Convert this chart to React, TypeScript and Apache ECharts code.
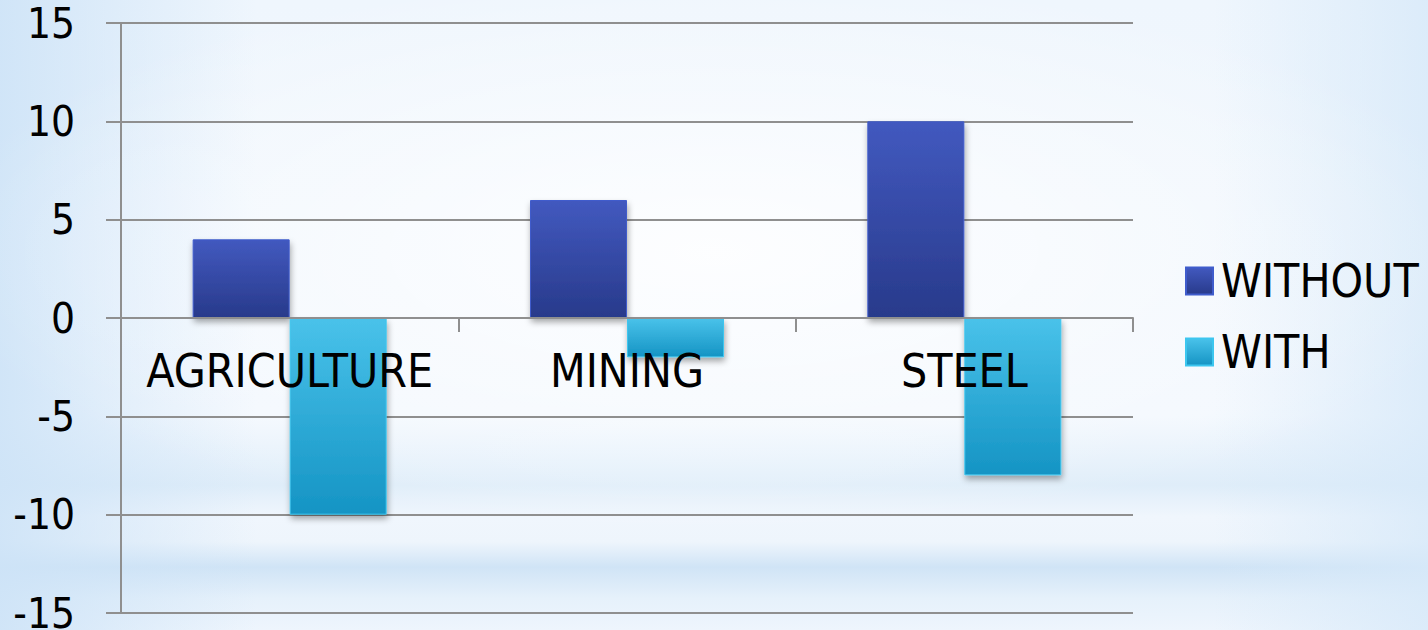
import React, { useEffect, useRef } from "react";
import * as echarts from "echarts";

const categories = ["AGRICULTURE", "MINING", "STEEL"];
const withoutValues = [4, 6, 10];
const withValues = [-10, -2, -8];
const seriesNames = ["WITHOUT", "WITH"];

const FONT = "'DejaVu Sans Condensed', 'Liberation Sans Narrow', 'DejaVu Sans', sans-serif";

export default function App() {
  const ref = useRef<HTMLDivElement>(null);
  useEffect(() => {
    if (!ref.current) return;
    const chart = echarts.init(ref.current, undefined, { renderer: "svg" });
    const gridColor = "#8f8f8f";
    chart.setOption({
      animation: false,
      backgroundColor: "transparent",
      grid: { left: 121, right: 295, top: 23, bottom: 17, containLabel: false, outerBoundsMode: "none" },
      legend: {
        orient: "vertical",
        left: 1180,
        top: 251,
        itemWidth: 27,
        itemHeight: 27,
        itemGap: 21,
        icon: "rect",
        textStyle: { fontFamily: FONT, fontSize: 46, color: "#000", lineHeight: 50, padding: [0, 0, 0, 3] },
        data: seriesNames,
      },
      xAxis: {
        type: "category",
        data: categories,
        position: "bottom",
        offset: -295,
        z: 5,
        axisLine: { onZero: false, lineStyle: { color: gridColor, width: 2 } },
        axisTick: { show: true, length: 14, lineStyle: { color: gridColor, width: 2 } },
        axisLabel: { fontFamily: FONT, fontSize: 46, color: "#000", margin: 30, interval: 0 },
        splitLine: { show: false },
      },
      yAxis: {
        type: "value",
        min: -15,
        max: 15,
        interval: 5,
        axisLine: { show: true, lineStyle: { color: gridColor, width: 2 } },
        axisTick: { show: true, length: 15, lineStyle: { color: gridColor, width: 2 } },
        axisLabel: { fontFamily: FONT, fontSize: 42, color: "#000", margin: 46 },
        splitLine: { show: true, lineStyle: { color: gridColor, width: 2 } },
      },
      series: [
        {
          name: seriesNames[0],
          type: "bar",
          data: withoutValues,
          barWidth: 97,
          barGap: "0%",
          itemStyle: {
            color: new echarts.graphic.LinearGradient(0, 0, 0, 1, [
              { offset: 0, color: "#4259bf" },
              { offset: 1, color: "#283a8b" },
            ]),
            borderColor: "#3f5ccc",
            borderWidth: 1,
            shadowColor: "rgba(0,0,0,0.35)",
            shadowBlur: 6,
            shadowOffsetY: 4,
            shadowOffsetX: 1,
          },
        },
        {
          name: seriesNames[1],
          type: "bar",
          data: withValues,
          barWidth: 97,
          barGap: "0%",
          itemStyle: {
            color: new echarts.graphic.LinearGradient(0, 0, 0, 1, [
              { offset: 0, color: "#49c2ea" },
              { offset: 1, color: "#1594c4" },
            ]),
            borderColor: "#3cc6ef",
            borderWidth: 1,
            shadowColor: "rgba(0,0,0,0.35)",
            shadowBlur: 6,
            shadowOffsetY: 4,
            shadowOffsetX: 1,
          },
        },
      ],
    });
    return () => chart.dispose();
  }, []);

  const bg = [
    "radial-gradient(ellipse 55% 45% at 50% 40%, rgba(255,255,255,0.85) 0%, rgba(255,255,255,0) 100%)",
    "linear-gradient(to right, rgba(205,227,247,0.9) 0%, rgba(240,247,254,0) 18%, rgba(240,247,254,0) 85%, rgba(215,233,249,0.8) 100%)",
    "linear-gradient(to bottom, #eff6fd 0%, #f3f8fe 66%, #e6f1fb 73%, #dfedf9 77%, #f0f6fd 82%, #eef5fc 86%, #d0e4f6 90%, #e6f1fb 95%, #eef5fd 100%)",
  ].join(", ");

  return (
    <div style={{ position: "fixed", left: 0, top: 0, width: 1428, height: 630, background: bg }}>
      <div ref={ref} style={{ width: 1428, height: 630 }} />
    </div>
  );
}
